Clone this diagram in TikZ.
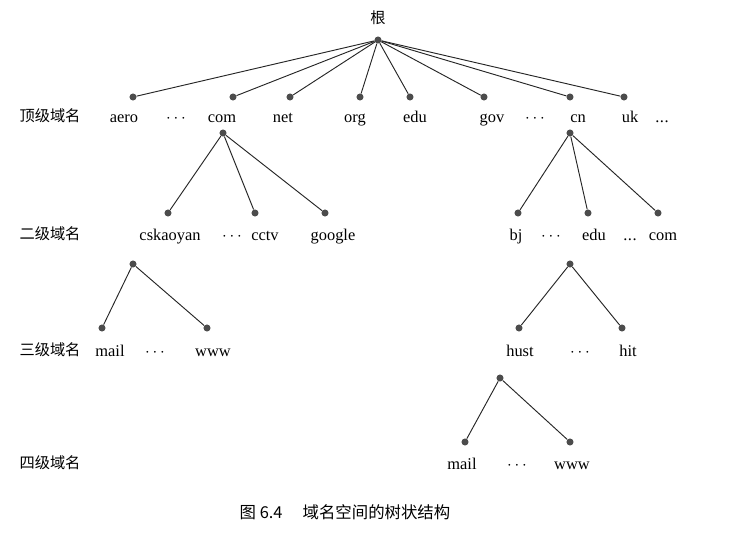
\documentclass[tikz,border=0pt]{standalone}
\usepackage{fontspec}
\setmainfont{Liberation Serif}
\newfontfamily\cjk{Noto Sans CJK SC}
\newcommand\mdt{$\cdots$}
\newcommand\ldt{.\kern0.5pt.\kern0.5pt.}
\tikzset{
  pt/.style={circle,fill=black!70,inner sep=0pt,minimum size=6pt},
  lbl/.style={font=\fontsize{14}{16}\selectfont,inner sep=1pt,text height=1.5ex,text depth=0.4ex,yshift=-3pt},
  lvl/.style={font=\cjk\fontsize{13}{15}\selectfont,inner sep=1pt},
  br/.style={line width=0.8pt,black!85}
}
\begin{document}
\begin{tikzpicture}[x=0.03cm,y=-0.03cm]
  \useasboundingbox (0,0) rectangle (734,541);
  % root
  \node[lvl] (rootlbl) at (378,18) {根};
  \node[pt] (root) at (378,40) {};
  % top level
  \foreach \n/\x in {aero/133,com/233,net/290,org/360,edu/410,gov/484,cn/570,uk/624}
     \node[pt] (t\n) at (\x,97) {};
  \foreach \n in {aero,com,net,org,edu,gov,cn,uk}
     \draw[br] (root) -- (t\n);
  \node[lvl] (l1) at (50,116) {顶级域名};
  \foreach \t/\x in {aero/124,\mdt/176,com/222,net/283,org/355,edu/415,gov/492,\mdt/535,cn/578,uk/630,\ldt/662}
     \node[lbl] at (\x,116) {\t};
  % second level
  \node[pt] (com) at (223,133) {};
  \node[pt] (cn) at (570,133) {};
  \foreach \n/\x in {cskaoyan/168,cctv/255,google/325}
     \node[pt] (s\n) at (\x,213) {};
  \foreach \n/\x in {bj/518,edu/588,com/658}
     \node[pt] (c\n) at (\x,213) {};
  \foreach \n in {cskaoyan,cctv,google}
     \draw[br] (com) -- (s\n);
  \foreach \n in {bj,edu,com}
     \draw[br] (cn) -- (c\n);
  \node[lvl] (l2) at (50,234) {二级域名};
  \foreach \t/\x in {cskaoyan/170,\mdt/232,cctv/265,google/333,bj/516,\mdt/551,edu/594,\ldt/630,com/663}
     \node[lbl] at (\x,234) {\t};
  % third level
  \node[pt] (csk) at (133,264) {};
  \node[pt] (edu) at (570,264) {};
  \node[pt] (kmail) at (102,328) {};
  \node[pt] (kwww) at (207,328) {};
  \node[pt] (ehust) at (519,328) {};
  \node[pt] (ehit) at (622,328) {};
  \draw[br] (kmail) -- (csk) -- (kwww);
  \draw[br] (ehust) -- (edu) -- (ehit);
  \node[lvl] (l3) at (50,350) {三级域名};
  \foreach \t/\x in {mail/110,\mdt/155,www/213,hust/520,\mdt/580,hit/628}
     \node[lbl] at (\x,350) {\t};
  % fourth level
  \node[pt] (hust) at (500,378) {};
  \node[pt] (hmail) at (465,442) {};
  \node[pt] (hwww) at (570,442) {};
  \draw[br] (hmail) -- (hust) -- (hwww);
  \node[lvl] (l4) at (50,463) {四级域名};
  \foreach \t/\x in {mail/462,\mdt/517,www/572}
     \node[lbl] at (\x,463) {\t};
  % caption
  \node[lvl,font=\cjk\fontsize{14}{16}\selectfont] (cap) at (345,512) {图 6.4\quad\ 域名空间的树状结构};
\end{tikzpicture}
\end{document}
